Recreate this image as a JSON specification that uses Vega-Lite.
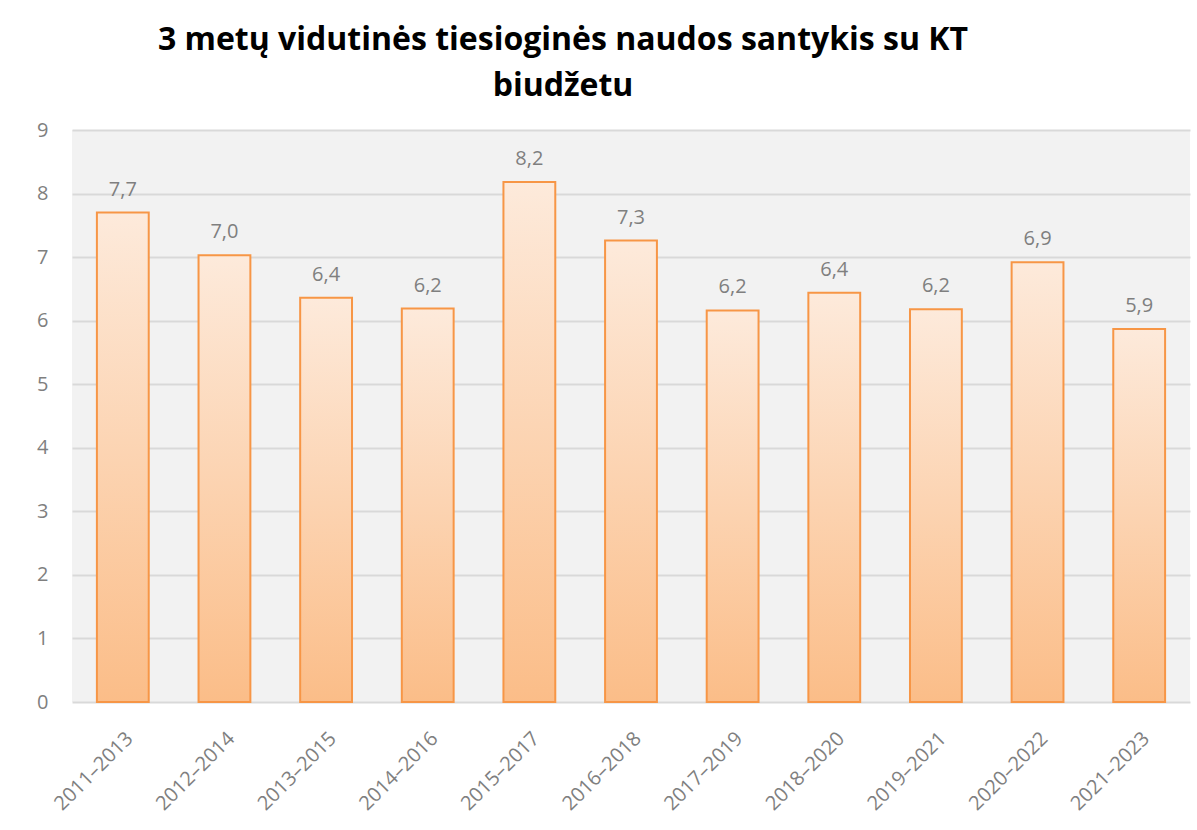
{
  "$schema": "https://vega.github.io/schema/vega-lite/v6.json",
  "autosize": {"type": "none"},
  "width": 1118,
  "height": 572,
  "padding": {"left": 72, "top": 130, "right": 7, "bottom": 128},
  "background": "#ffffff",
  "config": {
    "locale": {"number": {"decimal": ",", "thousands": " ", "grouping": [3], "currency": ["", " €"]}},
    "view": {"fill": "#f2f2f2", "stroke": null},
    "font": "Open Sans"
  },
  "title": {
    "text": ["3 metų vidutinės tiesioginės naudos santykis su KT", "biudžetu"],
    "font": "Open Sans",
    "fontSize": 32,
    "fontWeight": "bold",
    "color": "#000000",
    "anchor": "middle",
    "dx": -68,
    "offset": 17,
    "lineHeight": 46
  },
  "data": {
    "values": [
      {"period": "2011–2013", "value": 7.7},
      {"period": "2012–2014", "value": 7.03},
      {"period": "2013–2015", "value": 6.36},
      {"period": "2014–2016", "value": 6.19},
      {"period": "2015–2017", "value": 8.18},
      {"period": "2016–2018", "value": 7.26},
      {"period": "2017–2019", "value": 6.16},
      {"period": "2018–2020", "value": 6.44},
      {"period": "2019–2021", "value": 6.18},
      {"period": "2020–2022", "value": 6.92},
      {"period": "2021–2023", "value": 5.87}
    ]
  },
  "encoding": {
    "x": {
      "field": "period",
      "type": "nominal",
      "sort": null,
      "scale": {"paddingInner": 0.49, "paddingOuter": 0.245},
      "axis": {
        "title": null,
        "labelAngle": -45,
        "labelFontSize": 20,
        "labelColor": "#7f7f7f",
        "labelPadding": 26,
        "ticks": false,
        "domain": false,
        "labelFont": "Open Sans"
      }
    },
    "y": {
      "field": "value",
      "type": "quantitative",
      "scale": {"domain": [0, 9], "nice": false},
      "axis": {
        "title": null,
        "values": [0, 1, 2, 3, 4, 5, 6, 7, 8, 9],
        "format": "d",
        "labelFontSize": 20,
        "labelColor": "#7f7f7f",
        "labelPadding": 24,
        "ticks": false,
        "domain": false,
        "gridColor": "#d9d9d9",
        "gridWidth": 2,
        "labelFont": "Open Sans"
      }
    }
  },
  "layer": [
    {
      "mark": {
        "type": "bar",
        "stroke": "#f79646",
        "strokeWidth": 2,
        "color": {
          "gradient": "linear",
          "x1": 0, "y1": 0, "x2": 0, "y2": 1,
          "stops": [
            {"offset": 0, "color": "#fdeadb"},
            {"offset": 1, "color": "#fbbd88"}
          ]
        }
      }
    },
    {
      "mark": {"type": "text", "baseline": "bottom", "dy": -13, "fontSize": 20, "color": "#7f7f7f", "font": "Open Sans"},
      "encoding": {
        "text": {"field": "value", "type": "quantitative", "format": ".1f"}
      }
    }
  ]
}
